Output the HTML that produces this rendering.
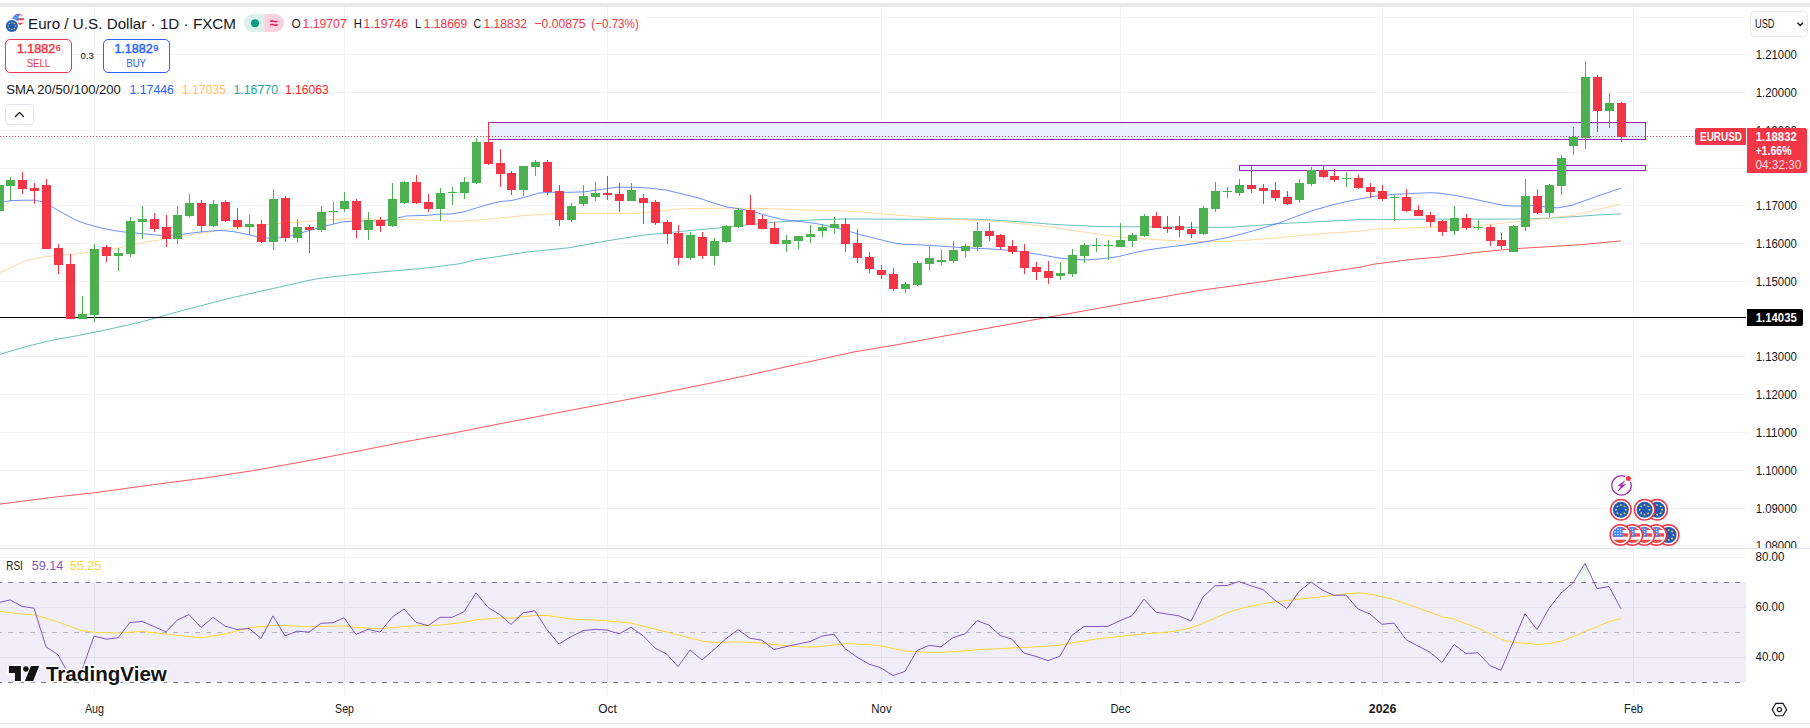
<!DOCTYPE html>
<html lang="en"><head><meta charset="utf-8"><title>EURUSD chart</title>
<style>html,body{margin:0;padding:0;background:#fff;overflow:hidden}svg{display:block}text{white-space:pre}</style>
</head><body>
<svg width="1810" height="728" viewBox="0 0 1810 728" font-family='"Liberation Sans", "DejaVu Sans", sans-serif'>
<rect width="1810" height="728" fill="#fff"/>
<rect x="0" y="3" width="1810" height="4" fill="#eaeaea"/>
<g fill="#f1f3f4" shape-rendering="crispEdges">
<rect x="646" y="17" width="1100" height="1"/>
<rect x="0" y="54" width="1746" height="1"/>
<rect x="0" y="92" width="1746" height="1"/>
<rect x="0" y="130" width="1746" height="1"/>
<rect x="0" y="168" width="1746" height="1"/>
<rect x="0" y="205" width="1746" height="1"/>
<rect x="0" y="243" width="1746" height="1"/>
<rect x="0" y="281" width="1746" height="1"/>
<rect x="0" y="319" width="1746" height="1"/>
<rect x="0" y="356" width="1746" height="1"/>
<rect x="0" y="394" width="1746" height="1"/>
<rect x="0" y="432" width="1746" height="1"/>
<rect x="0" y="470" width="1746" height="1"/>
<rect x="0" y="508" width="1746" height="1"/>
<rect x="0" y="545" width="1746" height="1"/>
<rect x="94" y="7" width="1" height="541"/>
<rect x="94" y="549" width="1" height="146"/>
<rect x="344" y="7" width="1" height="541"/>
<rect x="344" y="549" width="1" height="146"/>
<rect x="607" y="7" width="1" height="541"/>
<rect x="607" y="549" width="1" height="146"/>
<rect x="881" y="7" width="1" height="541"/>
<rect x="881" y="549" width="1" height="146"/>
<rect x="1120" y="7" width="1" height="541"/>
<rect x="1120" y="549" width="1" height="146"/>
<rect x="1382" y="7" width="1" height="541"/>
<rect x="1382" y="549" width="1" height="146"/>
<rect x="1633" y="7" width="1" height="541"/>
<rect x="1633" y="549" width="1" height="146"/>
<rect x="0" y="557" width="1746" height="1"/>
<rect x="0" y="607" width="1746" height="1"/>
<rect x="0" y="657" width="1746" height="1"/>
</g>
<g shape-rendering="crispEdges">
<rect x="488.5" y="122.5" width="1157" height="17" fill="#e8effd" stroke="#9c27b0" stroke-width="1"/>
<rect x="1239.5" y="165.5" width="406" height="5" fill="#e8effd" stroke="#9c27b0" stroke-width="1"/>
</g>
<polyline points="0.0,504.1 50.3,497.6 95.5,492.6 150.8,485.0 201.1,478.5 251.4,470.9 301.7,461.9 352.0,452.3 402.2,442.3 452.5,433.2 502.8,423.2 553.0,413.6 603.3,404.1 653.6,394.5 703.9,384.5 754.2,373.9 804.4,362.8 854.7,351.8 900.0,344.2 950.8,334.8 1001.7,325.7 1044.9,317.8 1077.9,312.0 1103.3,307.4 1128.7,302.8 1154.1,298.5 1179.5,293.9 1205.0,289.6 1230.4,286.3 1255.8,282.7 1281.2,278.9 1306.6,275.1 1332.0,271.3 1360.0,267.2 1374.3,264.1 1410.0,259.6 1440.0,257.0 1475.7,252.5 1511.4,248.9 1547.1,246.8 1582.9,244.5 1621.0,240.9" fill="none" stroke="#ff3b3b" stroke-width="1" stroke-linejoin="round" stroke-opacity="0.85"/>
<polyline points="0.0,354.3 25.1,346.8 50.3,340.5 76.2,335.9 101.7,330.8 127.0,325.2 142.3,321.6 160.1,316.8 177.9,311.7 203.3,305.1 228.7,298.5 254.1,292.7 279.5,287.1 305.0,281.2 317.7,278.7 343.0,275.6 368.5,273.1 393.9,270.8 419.3,268.8 444.7,265.7 460.0,263.7 475.4,259.9 500.8,256.1 526.2,252.2 551.7,249.5 569.4,247.7 589.8,243.9 615.2,239.5 640.6,235.5 666.0,232.9 691.4,230.4 716.8,228.1 742.3,225.3 767.7,222.8 793.1,221.0 818.5,219.7 843.9,219.0 869.3,219.0 900.0,219.2 925.4,219.2 950.8,219.0 976.2,219.2 1001.7,220.5 1027.0,222.3 1052.5,224.3 1077.9,225.6 1103.3,226.6 1128.7,226.8 1154.1,226.8 1179.5,227.3 1205.0,227.3 1230.4,227.3 1255.8,225.6 1281.2,223.5 1306.6,222.3 1332.0,221.0 1360.0,219.7 1392.1,219.5 1427.9,219.1 1475.7,219.1 1511.4,219.1 1532.9,218.8 1550.7,218.0 1572.1,216.8 1597.1,215.0 1621.0,213.9" fill="none" stroke="#26a69a" stroke-width="1" stroke-linejoin="round" stroke-opacity="0.7"/>
<polyline points="0.0,272.6 12.7,266.7 25.4,261.1 38.1,257.8 50.8,256.1 71.2,254.5 86.4,252.8 101.7,250.7 119.4,247.7 142.3,242.6 162.6,239.3 183.0,236.2 203.3,232.9 223.6,229.9 244.0,226.6 264.3,224.8 284.6,223.0 305.0,221.5 325.3,220.2 345.6,219.0 366.0,219.0 386.3,219.7 406.6,219.2 427.0,220.2 447.3,221.0 460.0,221.4 475.4,220.2 500.8,217.9 526.2,215.4 551.7,213.9 577.0,213.4 602.5,213.4 628.0,213.9 643.0,212.9 661.0,210.8 678.7,209.0 704.1,208.3 729.5,208.3 755.0,208.3 780.4,209.0 805.8,210.1 831.2,210.3 856.6,211.6 882.0,213.9 900.0,215.4 925.4,217.2 950.8,219.0 976.2,220.5 1001.7,221.8 1027.0,224.3 1052.5,227.3 1077.9,231.2 1103.3,235.0 1128.7,238.0 1154.1,239.5 1179.5,240.8 1205.0,241.8 1230.4,241.3 1255.8,239.5 1281.2,237.5 1306.6,235.0 1332.0,232.9 1360.0,231.2 1374.3,229.3 1410.0,227.9 1436.8,227.0 1457.9,227.9 1482.9,225.2 1500.7,223.4 1518.6,221.6 1532.9,219.8 1550.7,218.0 1572.1,215.5 1586.4,212.3 1600.7,208.8 1621.0,203.9" fill="none" stroke="#ffcc80" stroke-width="1" stroke-linejoin="round" stroke-opacity="0.75"/>
<polyline points="0.0,202.7 10.0,200.7 23.0,200.2 34.0,200.2 41.0,201.4 51.0,206.3 63.5,213.4 76.0,220.2 86.4,224.0 101.7,228.1 114.4,230.6 127.0,232.4 142.3,233.7 157.6,235.2 167.7,235.5 178.0,234.7 193.0,232.9 208.4,231.2 221.0,230.4 233.8,231.7 244.0,233.7 256.7,236.7 266.8,238.0 279.5,237.8 292.2,235.7 305.0,231.7 317.7,228.1 330.4,224.8 343.0,221.8 355.8,221.0 368.5,221.0 381.2,221.0 393.9,219.0 406.6,215.9 427.0,215.4 442.2,213.9 450.0,214.1 462.7,212.1 475.4,208.3 488.1,204.5 500.8,201.4 511.0,200.7 526.2,196.8 539.0,193.0 551.7,192.3 569.4,192.3 584.7,191.8 602.5,189.2 617.7,187.2 633.0,187.2 648.2,188.0 666.0,190.0 683.8,194.3 699.0,198.1 714.3,203.2 727.0,207.0 739.7,208.8 755.0,212.1 767.7,215.9 782.9,219.7 800.7,221.5 816.0,223.5 831.2,226.6 846.4,230.6 861.7,235.0 876.9,238.8 892.2,242.6 904.9,244.6 915.2,244.6 938.1,245.9 963.5,247.7 989.0,248.9 1014.4,250.7 1039.8,254.5 1057.6,257.8 1072.8,259.6 1088.0,259.9 1103.3,258.6 1118.5,256.6 1133.8,252.8 1149.0,249.7 1166.8,247.2 1184.6,245.1 1205.0,241.8 1225.3,238.0 1243.0,233.7 1260.9,228.6 1281.2,222.3 1296.4,216.4 1311.7,210.8 1332.0,205.0 1347.3,201.4 1360.0,198.9 1374.3,196.3 1392.1,194.5 1410.0,193.6 1429.6,192.7 1440.0,193.2 1457.9,195.9 1475.7,199.5 1493.6,203.4 1504.3,205.5 1515.0,206.1 1532.9,205.7 1547.1,207.0 1557.9,207.9 1572.1,205.2 1582.9,201.3 1597.1,196.3 1611.4,191.4 1621.0,188.2" fill="none" stroke="#2962ff" stroke-width="1" stroke-linejoin="round" stroke-opacity="0.7"/>
<rect x="0" y="317" width="1746" height="1" fill="#000" shape-rendering="crispEdges"/>
<g shape-rendering="crispEdges">
<rect x="-1" y="185" width="1" height="26" fill="#4caf50"/>
<rect x="-5" y="185" width="9" height="26" fill="#4caf50"/>
<rect x="10" y="177" width="1" height="24" fill="#4caf50"/>
<rect x="6" y="180" width="9" height="6" fill="#4caf50"/>
<rect x="22" y="172" width="1" height="22" fill="#f23645"/>
<rect x="18" y="180" width="9" height="9" fill="#f23645"/>
<rect x="34" y="183" width="1" height="21" fill="#f23645"/>
<rect x="30" y="188" width="9" height="3" fill="#f23645"/>
<rect x="46" y="179" width="1" height="70" fill="#f23645"/>
<rect x="42" y="185" width="9" height="64" fill="#f23645"/>
<rect x="58" y="244" width="1" height="30" fill="#f23645"/>
<rect x="54" y="248" width="9" height="17" fill="#f23645"/>
<rect x="70" y="254" width="1" height="65" fill="#f23645"/>
<rect x="66" y="264" width="9" height="55" fill="#f23645"/>
<rect x="82" y="296" width="1" height="23" fill="#4caf50"/>
<rect x="78" y="314" width="9" height="5" fill="#4caf50"/>
<rect x="94" y="244" width="1" height="78" fill="#4caf50"/>
<rect x="90" y="249" width="9" height="66" fill="#4caf50"/>
<rect x="106" y="245" width="1" height="17" fill="#f23645"/>
<rect x="102" y="247" width="9" height="9" fill="#f23645"/>
<rect x="118" y="248" width="1" height="23" fill="#4caf50"/>
<rect x="114" y="253" width="9" height="3" fill="#4caf50"/>
<rect x="130" y="217" width="1" height="40" fill="#4caf50"/>
<rect x="126" y="221" width="9" height="33" fill="#4caf50"/>
<rect x="142" y="206" width="1" height="33" fill="#4caf50"/>
<rect x="138" y="219" width="9" height="3" fill="#4caf50"/>
<rect x="154" y="213" width="1" height="19" fill="#f23645"/>
<rect x="150" y="219" width="9" height="10" fill="#f23645"/>
<rect x="166" y="215" width="1" height="32" fill="#f23645"/>
<rect x="162" y="227" width="9" height="12" fill="#f23645"/>
<rect x="177" y="206" width="1" height="38" fill="#4caf50"/>
<rect x="173" y="215" width="9" height="24" fill="#4caf50"/>
<rect x="189" y="194" width="1" height="23" fill="#4caf50"/>
<rect x="185" y="203" width="9" height="13" fill="#4caf50"/>
<rect x="201" y="200" width="1" height="32" fill="#f23645"/>
<rect x="197" y="203" width="9" height="23" fill="#f23645"/>
<rect x="213" y="200" width="1" height="27" fill="#4caf50"/>
<rect x="209" y="204" width="9" height="22" fill="#4caf50"/>
<rect x="225" y="200" width="1" height="22" fill="#f23645"/>
<rect x="221" y="202" width="9" height="19" fill="#f23645"/>
<rect x="237" y="208" width="1" height="21" fill="#f23645"/>
<rect x="233" y="220" width="9" height="7" fill="#f23645"/>
<rect x="249" y="215" width="1" height="20" fill="#4caf50"/>
<rect x="245" y="224" width="9" height="3" fill="#4caf50"/>
<rect x="261" y="220" width="1" height="23" fill="#f23645"/>
<rect x="257" y="224" width="9" height="18" fill="#f23645"/>
<rect x="273" y="189" width="1" height="61" fill="#4caf50"/>
<rect x="269" y="199" width="9" height="43" fill="#4caf50"/>
<rect x="285" y="196" width="1" height="46" fill="#f23645"/>
<rect x="281" y="198" width="9" height="40" fill="#f23645"/>
<rect x="297" y="219" width="1" height="24" fill="#4caf50"/>
<rect x="293" y="227" width="9" height="11" fill="#4caf50"/>
<rect x="309" y="225" width="1" height="28" fill="#f23645"/>
<rect x="305" y="227" width="9" height="3" fill="#f23645"/>
<rect x="321" y="206" width="1" height="26" fill="#4caf50"/>
<rect x="317" y="212" width="9" height="18" fill="#4caf50"/>
<rect x="333" y="202" width="1" height="22" fill="#4caf50"/>
<rect x="329" y="211" width="9" height="1" fill="#4caf50"/>
<rect x="344" y="192" width="1" height="20" fill="#4caf50"/>
<rect x="340" y="201" width="9" height="8" fill="#4caf50"/>
<rect x="356" y="199" width="1" height="39" fill="#f23645"/>
<rect x="352" y="201" width="9" height="29" fill="#f23645"/>
<rect x="368" y="212" width="1" height="28" fill="#4caf50"/>
<rect x="364" y="220" width="9" height="10" fill="#4caf50"/>
<rect x="380" y="217" width="1" height="15" fill="#f23645"/>
<rect x="376" y="220" width="9" height="6" fill="#f23645"/>
<rect x="392" y="183" width="1" height="44" fill="#4caf50"/>
<rect x="388" y="199" width="9" height="27" fill="#4caf50"/>
<rect x="404" y="181" width="1" height="23" fill="#4caf50"/>
<rect x="400" y="182" width="9" height="21" fill="#4caf50"/>
<rect x="416" y="175" width="1" height="29" fill="#f23645"/>
<rect x="412" y="182" width="9" height="21" fill="#f23645"/>
<rect x="428" y="194" width="1" height="18" fill="#f23645"/>
<rect x="424" y="202" width="9" height="7" fill="#f23645"/>
<rect x="440" y="188" width="1" height="33" fill="#4caf50"/>
<rect x="436" y="193" width="9" height="16" fill="#4caf50"/>
<rect x="452" y="187" width="1" height="18" fill="#4caf50"/>
<rect x="448" y="192" width="9" height="1" fill="#4caf50"/>
<rect x="464" y="177" width="1" height="22" fill="#4caf50"/>
<rect x="460" y="182" width="9" height="11" fill="#4caf50"/>
<rect x="476" y="138" width="1" height="46" fill="#4caf50"/>
<rect x="472" y="142" width="9" height="41" fill="#4caf50"/>
<rect x="488" y="122" width="1" height="43" fill="#f23645"/>
<rect x="484" y="142" width="9" height="22" fill="#f23645"/>
<rect x="500" y="149" width="1" height="38" fill="#f23645"/>
<rect x="496" y="163" width="9" height="11" fill="#f23645"/>
<rect x="511" y="171" width="1" height="24" fill="#f23645"/>
<rect x="507" y="173" width="9" height="17" fill="#f23645"/>
<rect x="523" y="166" width="1" height="30" fill="#4caf50"/>
<rect x="519" y="166" width="9" height="24" fill="#4caf50"/>
<rect x="535" y="160" width="1" height="16" fill="#4caf50"/>
<rect x="531" y="162" width="9" height="5" fill="#4caf50"/>
<rect x="547" y="160" width="1" height="35" fill="#f23645"/>
<rect x="543" y="162" width="9" height="30" fill="#f23645"/>
<rect x="559" y="185" width="1" height="41" fill="#f23645"/>
<rect x="555" y="191" width="9" height="29" fill="#f23645"/>
<rect x="571" y="203" width="1" height="19" fill="#4caf50"/>
<rect x="567" y="206" width="9" height="14" fill="#4caf50"/>
<rect x="583" y="185" width="1" height="21" fill="#4caf50"/>
<rect x="579" y="196" width="9" height="8" fill="#4caf50"/>
<rect x="595" y="182" width="1" height="19" fill="#4caf50"/>
<rect x="591" y="193" width="9" height="4" fill="#4caf50"/>
<rect x="607" y="176" width="1" height="24" fill="#f23645"/>
<rect x="603" y="193" width="9" height="2" fill="#f23645"/>
<rect x="619" y="183" width="1" height="29" fill="#f23645"/>
<rect x="615" y="194" width="9" height="7" fill="#f23645"/>
<rect x="631" y="183" width="1" height="18" fill="#4caf50"/>
<rect x="627" y="190" width="9" height="11" fill="#4caf50"/>
<rect x="643" y="194" width="1" height="30" fill="#f23645"/>
<rect x="639" y="198" width="9" height="5" fill="#f23645"/>
<rect x="655" y="200" width="1" height="25" fill="#f23645"/>
<rect x="651" y="202" width="9" height="21" fill="#f23645"/>
<rect x="667" y="220" width="1" height="24" fill="#f23645"/>
<rect x="663" y="222" width="9" height="12" fill="#f23645"/>
<rect x="678" y="225" width="1" height="40" fill="#f23645"/>
<rect x="674" y="233" width="9" height="25" fill="#f23645"/>
<rect x="690" y="232" width="1" height="28" fill="#4caf50"/>
<rect x="686" y="235" width="9" height="23" fill="#4caf50"/>
<rect x="702" y="232" width="1" height="27" fill="#f23645"/>
<rect x="698" y="237" width="9" height="19" fill="#f23645"/>
<rect x="714" y="238" width="1" height="27" fill="#4caf50"/>
<rect x="710" y="241" width="9" height="15" fill="#4caf50"/>
<rect x="726" y="225" width="1" height="18" fill="#4caf50"/>
<rect x="722" y="226" width="9" height="16" fill="#4caf50"/>
<rect x="738" y="208" width="1" height="20" fill="#4caf50"/>
<rect x="734" y="210" width="9" height="17" fill="#4caf50"/>
<rect x="750" y="195" width="1" height="30" fill="#f23645"/>
<rect x="746" y="210" width="9" height="15" fill="#f23645"/>
<rect x="762" y="215" width="1" height="14" fill="#f23645"/>
<rect x="758" y="219" width="9" height="10" fill="#f23645"/>
<rect x="774" y="222" width="1" height="22" fill="#f23645"/>
<rect x="770" y="228" width="9" height="16" fill="#f23645"/>
<rect x="786" y="235" width="1" height="17" fill="#4caf50"/>
<rect x="782" y="240" width="9" height="4" fill="#4caf50"/>
<rect x="798" y="236" width="1" height="13" fill="#4caf50"/>
<rect x="794" y="236" width="9" height="5" fill="#4caf50"/>
<rect x="810" y="225" width="1" height="18" fill="#4caf50"/>
<rect x="806" y="234" width="9" height="3" fill="#4caf50"/>
<rect x="822" y="224" width="1" height="13" fill="#4caf50"/>
<rect x="818" y="227" width="9" height="4" fill="#4caf50"/>
<rect x="834" y="217" width="1" height="17" fill="#4caf50"/>
<rect x="830" y="224" width="9" height="4" fill="#4caf50"/>
<rect x="845" y="218" width="1" height="34" fill="#f23645"/>
<rect x="841" y="224" width="9" height="20" fill="#f23645"/>
<rect x="857" y="229" width="1" height="34" fill="#f23645"/>
<rect x="853" y="243" width="9" height="15" fill="#f23645"/>
<rect x="869" y="252" width="1" height="21" fill="#f23645"/>
<rect x="865" y="257" width="9" height="12" fill="#f23645"/>
<rect x="881" y="265" width="1" height="14" fill="#f23645"/>
<rect x="877" y="270" width="9" height="5" fill="#f23645"/>
<rect x="893" y="268" width="1" height="23" fill="#f23645"/>
<rect x="889" y="274" width="9" height="15" fill="#f23645"/>
<rect x="905" y="282" width="1" height="11" fill="#4caf50"/>
<rect x="901" y="284" width="9" height="5" fill="#4caf50"/>
<rect x="917" y="261" width="1" height="25" fill="#4caf50"/>
<rect x="913" y="263" width="9" height="22" fill="#4caf50"/>
<rect x="929" y="247" width="1" height="23" fill="#4caf50"/>
<rect x="925" y="258" width="9" height="6" fill="#4caf50"/>
<rect x="941" y="250" width="1" height="15" fill="#4caf50"/>
<rect x="937" y="260" width="9" height="2" fill="#4caf50"/>
<rect x="953" y="241" width="1" height="22" fill="#4caf50"/>
<rect x="949" y="250" width="9" height="11" fill="#4caf50"/>
<rect x="965" y="244" width="1" height="13" fill="#4caf50"/>
<rect x="961" y="246" width="9" height="5" fill="#4caf50"/>
<rect x="977" y="222" width="1" height="29" fill="#4caf50"/>
<rect x="973" y="231" width="9" height="16" fill="#4caf50"/>
<rect x="989" y="223" width="1" height="18" fill="#f23645"/>
<rect x="985" y="231" width="9" height="5" fill="#f23645"/>
<rect x="1000" y="234" width="1" height="16" fill="#f23645"/>
<rect x="996" y="235" width="9" height="12" fill="#f23645"/>
<rect x="1012" y="240" width="1" height="14" fill="#f23645"/>
<rect x="1008" y="246" width="9" height="6" fill="#f23645"/>
<rect x="1024" y="244" width="1" height="30" fill="#f23645"/>
<rect x="1020" y="251" width="9" height="17" fill="#f23645"/>
<rect x="1036" y="262" width="1" height="18" fill="#f23645"/>
<rect x="1032" y="267" width="9" height="5" fill="#f23645"/>
<rect x="1048" y="261" width="1" height="23" fill="#f23645"/>
<rect x="1044" y="271" width="9" height="7" fill="#f23645"/>
<rect x="1060" y="262" width="1" height="18" fill="#4caf50"/>
<rect x="1056" y="273" width="9" height="3" fill="#4caf50"/>
<rect x="1072" y="249" width="1" height="28" fill="#4caf50"/>
<rect x="1068" y="255" width="9" height="19" fill="#4caf50"/>
<rect x="1084" y="243" width="1" height="20" fill="#4caf50"/>
<rect x="1080" y="245" width="9" height="11" fill="#4caf50"/>
<rect x="1096" y="238" width="1" height="14" fill="#4caf50"/>
<rect x="1092" y="245" width="9" height="1" fill="#4caf50"/>
<rect x="1108" y="240" width="1" height="20" fill="#4caf50"/>
<rect x="1104" y="245" width="9" height="1" fill="#4caf50"/>
<rect x="1120" y="223" width="1" height="24" fill="#4caf50"/>
<rect x="1116" y="240" width="9" height="7" fill="#4caf50"/>
<rect x="1132" y="233" width="1" height="14" fill="#4caf50"/>
<rect x="1128" y="235" width="9" height="6" fill="#4caf50"/>
<rect x="1144" y="214" width="1" height="23" fill="#4caf50"/>
<rect x="1140" y="216" width="9" height="20" fill="#4caf50"/>
<rect x="1156" y="212" width="1" height="16" fill="#f23645"/>
<rect x="1152" y="216" width="9" height="12" fill="#f23645"/>
<rect x="1167" y="216" width="1" height="17" fill="#f23645"/>
<rect x="1163" y="227" width="9" height="2" fill="#f23645"/>
<rect x="1179" y="216" width="1" height="21" fill="#f23645"/>
<rect x="1175" y="226" width="9" height="4" fill="#f23645"/>
<rect x="1191" y="222" width="1" height="16" fill="#f23645"/>
<rect x="1187" y="229" width="9" height="5" fill="#f23645"/>
<rect x="1203" y="206" width="1" height="29" fill="#4caf50"/>
<rect x="1199" y="208" width="9" height="26" fill="#4caf50"/>
<rect x="1215" y="182" width="1" height="30" fill="#4caf50"/>
<rect x="1211" y="191" width="9" height="18" fill="#4caf50"/>
<rect x="1227" y="187" width="1" height="11" fill="#4caf50"/>
<rect x="1223" y="191" width="9" height="1" fill="#4caf50"/>
<rect x="1239" y="179" width="1" height="17" fill="#4caf50"/>
<rect x="1235" y="185" width="9" height="8" fill="#4caf50"/>
<rect x="1251" y="166" width="1" height="27" fill="#f23645"/>
<rect x="1247" y="185" width="9" height="4" fill="#f23645"/>
<rect x="1263" y="184" width="1" height="20" fill="#f23645"/>
<rect x="1259" y="188" width="9" height="3" fill="#f23645"/>
<rect x="1275" y="182" width="1" height="19" fill="#f23645"/>
<rect x="1271" y="190" width="9" height="8" fill="#f23645"/>
<rect x="1287" y="191" width="1" height="14" fill="#f23645"/>
<rect x="1283" y="197" width="9" height="7" fill="#f23645"/>
<rect x="1299" y="179" width="1" height="24" fill="#4caf50"/>
<rect x="1295" y="183" width="9" height="17" fill="#4caf50"/>
<rect x="1311" y="167" width="1" height="19" fill="#4caf50"/>
<rect x="1307" y="170" width="9" height="14" fill="#4caf50"/>
<rect x="1323" y="165" width="1" height="13" fill="#f23645"/>
<rect x="1319" y="170" width="9" height="7" fill="#f23645"/>
<rect x="1334" y="169" width="1" height="13" fill="#f23645"/>
<rect x="1330" y="176" width="9" height="4" fill="#f23645"/>
<rect x="1346" y="172" width="1" height="15" fill="#4caf50"/>
<rect x="1342" y="178" width="9" height="1" fill="#4caf50"/>
<rect x="1358" y="175" width="1" height="14" fill="#f23645"/>
<rect x="1354" y="178" width="9" height="10" fill="#f23645"/>
<rect x="1370" y="183" width="1" height="15" fill="#f23645"/>
<rect x="1366" y="187" width="9" height="5" fill="#f23645"/>
<rect x="1382" y="185" width="1" height="16" fill="#f23645"/>
<rect x="1378" y="191" width="9" height="8" fill="#f23645"/>
<rect x="1394" y="195" width="1" height="26" fill="#4caf50"/>
<rect x="1390" y="197" width="9" height="1" fill="#4caf50"/>
<rect x="1406" y="189" width="1" height="23" fill="#f23645"/>
<rect x="1402" y="197" width="9" height="14" fill="#f23645"/>
<rect x="1418" y="205" width="1" height="11" fill="#f23645"/>
<rect x="1414" y="210" width="9" height="6" fill="#f23645"/>
<rect x="1430" y="212" width="1" height="15" fill="#f23645"/>
<rect x="1426" y="215" width="9" height="7" fill="#f23645"/>
<rect x="1442" y="220" width="1" height="16" fill="#f23645"/>
<rect x="1438" y="221" width="9" height="11" fill="#f23645"/>
<rect x="1454" y="206" width="1" height="29" fill="#4caf50"/>
<rect x="1450" y="218" width="9" height="13" fill="#4caf50"/>
<rect x="1466" y="214" width="1" height="16" fill="#f23645"/>
<rect x="1462" y="218" width="9" height="10" fill="#f23645"/>
<rect x="1478" y="220" width="1" height="10" fill="#4caf50"/>
<rect x="1474" y="227" width="9" height="1" fill="#4caf50"/>
<rect x="1490" y="225" width="1" height="21" fill="#f23645"/>
<rect x="1486" y="227" width="9" height="14" fill="#f23645"/>
<rect x="1501" y="233" width="1" height="16" fill="#f23645"/>
<rect x="1497" y="240" width="9" height="6" fill="#f23645"/>
<rect x="1513" y="225" width="1" height="27" fill="#4caf50"/>
<rect x="1509" y="226" width="9" height="26" fill="#4caf50"/>
<rect x="1525" y="179" width="1" height="52" fill="#4caf50"/>
<rect x="1521" y="196" width="9" height="31" fill="#4caf50"/>
<rect x="1537" y="189" width="1" height="25" fill="#f23645"/>
<rect x="1533" y="196" width="9" height="17" fill="#f23645"/>
<rect x="1549" y="184" width="1" height="33" fill="#4caf50"/>
<rect x="1545" y="185" width="9" height="28" fill="#4caf50"/>
<rect x="1561" y="155" width="1" height="40" fill="#4caf50"/>
<rect x="1557" y="158" width="9" height="28" fill="#4caf50"/>
<rect x="1573" y="127" width="1" height="28" fill="#4caf50"/>
<rect x="1569" y="137" width="9" height="9" fill="#4caf50"/>
<rect x="1585" y="61" width="1" height="88" fill="#4caf50"/>
<rect x="1581" y="77" width="9" height="61" fill="#4caf50"/>
<rect x="1597" y="75" width="1" height="57" fill="#f23645"/>
<rect x="1593" y="77" width="9" height="34" fill="#f23645"/>
<rect x="1609" y="93" width="1" height="35" fill="#4caf50"/>
<rect x="1605" y="103" width="9" height="8" fill="#4caf50"/>
<rect x="1621" y="102" width="1" height="40" fill="#f23645"/>
<rect x="1617" y="103" width="9" height="34" fill="#f23645"/>
</g>
<line x1="0" y1="136.5" x2="1694" y2="136.5" stroke="#f23645" stroke-width="1" stroke-dasharray="1 2" shape-rendering="crispEdges"/>
<rect x="0" y="548" width="1810" height="1" fill="#e0e3eb"/>
<rect x="0" y="582" width="1746" height="100" fill="#7e57c2" fill-opacity="0.1"/>
<line x1="0" y1="582.5" x2="1746" y2="582.5" stroke="#787b86" stroke-width="1" stroke-dasharray="5 6" stroke-dashoffset="2.9"/>
<line x1="0" y1="682.5" x2="1746" y2="682.5" stroke="#787b86" stroke-width="1" stroke-dasharray="5 6" stroke-dashoffset="2.9"/>
<line x1="0" y1="632.5" x2="1746" y2="632.5" stroke="#787b86" stroke-opacity="0.5" stroke-width="1" stroke-dasharray="5 6" stroke-dashoffset="2.9"/>
<defs><linearGradient id="ob" gradientUnits="userSpaceOnUse" x1="0" y1="507.4" x2="0" y2="582.3"><stop offset="0" stop-color="#4caf50" stop-opacity="1"/><stop offset="1" stop-color="#4caf50" stop-opacity="0"/></linearGradient><clipPath id="obc"><rect x="0" y="549" width="1746" height="33.5"/></clipPath></defs>
<polygon points="-13.0,582.5 -13.0,603.0 -1.0,602.5 10.0,599.9 22.0,606.3 34.0,608.2 46.0,646.8 58.0,654.6 70.0,677.0 82.0,670.0 94.0,636.1 106.0,639.1 118.0,637.8 130.0,622.5 142.0,621.4 154.0,626.5 166.0,631.9 177.0,620.2 189.0,614.6 201.0,627.4 213.0,617.4 225.0,626.1 237.0,629.5 249.0,628.5 261.0,638.3 273.0,615.9 285.0,635.9 297.0,631.2 309.0,632.1 321.0,623.3 333.0,622.7 344.0,617.7 356.0,634.4 368.0,629.3 380.0,632.1 392.0,617.3 404.0,609.0 416.0,622.3 428.0,625.7 440.0,617.3 452.0,617.3 464.0,611.8 476.0,592.9 488.0,607.4 500.0,614.7 511.0,624.5 523.0,612.8 535.0,610.8 547.0,629.7 559.0,644.0 571.0,636.6 583.0,630.7 595.0,629.3 607.0,630.1 619.0,633.8 631.0,627.3 643.0,635.6 655.0,648.0 667.0,654.3 678.0,666.7 690.0,650.0 702.0,659.9 714.0,649.6 726.0,638.6 738.0,629.7 750.0,638.2 762.0,640.2 774.0,649.6 786.0,646.6 798.0,644.0 810.0,641.6 822.0,636.0 834.0,634.2 845.0,648.6 857.0,657.1 869.0,664.1 881.0,667.9 893.0,675.6 905.0,671.4 917.0,650.5 929.0,645.4 941.0,646.8 953.0,637.6 965.0,633.8 977.0,620.7 989.0,625.1 1000.0,635.4 1012.0,639.2 1024.0,653.1 1036.0,656.4 1048.0,660.7 1060.0,656.1 1072.0,635.2 1084.0,626.5 1096.0,626.5 1108.0,626.3 1120.0,620.7 1132.0,615.7 1144.0,599.2 1156.0,612.2 1167.0,614.0 1179.0,615.9 1191.0,621.1 1203.0,597.0 1215.0,585.7 1227.0,585.5 1239.0,581.5 1251.0,585.9 1263.0,589.5 1275.0,600.2 1287.0,608.6 1299.0,591.5 1311.0,581.9 1323.0,590.5 1334.0,595.3 1346.0,595.1 1358.0,609.0 1370.0,614.0 1382.0,624.3 1394.0,623.1 1406.0,639.6 1418.0,646.0 1430.0,652.2 1442.0,662.5 1454.0,644.5 1466.0,653.5 1478.0,652.7 1490.0,665.7 1501.0,670.3 1513.0,642.4 1525.0,613.8 1537.0,629.6 1549.0,608.4 1561.0,593.0 1573.0,582.8 1585.0,563.4 1597.0,588.6 1609.0,586.5 1621.0,608.8 1621.0,582.5" fill="url(#ob)" clip-path="url(#obc)"/>
<polyline points="0.0,611.4 22.8,614.2 34.7,614.8 58.5,622.1 82.4,630.8 94.3,632.3 118.2,633.1 142.0,631.4 165.9,634.0 177.8,635.5 201.7,637.8 225.5,634.0 249.4,627.6 273.2,625.5 285.2,625.5 309.0,626.8 332.9,626.1 344.7,625.9 356.7,627.5 380.5,628.7 404.4,626.5 428.3,625.3 440.2,625.1 464.0,622.3 476.0,619.7 499.9,617.9 511.8,618.3 523.7,616.5 535.7,615.5 547.6,615.5 571.5,619.1 595.3,620.1 607.3,620.9 631.1,623.1 655.0,629.1 678.9,635.2 702.7,641.2 714.6,642.6 738.5,641.8 762.4,643.2 774.3,644.6 798.2,646.6 810.1,647.2 822.0,646.4 845.9,643.6 869.8,644.6 881.7,646.0 905.5,651.1 917.5,651.9 929.4,652.3 941.3,652.3 965.2,650.9 977.1,649.6 1001.0,648.6 1024.9,647.4 1048.7,646.2 1060.6,645.0 1072.6,642.8 1096.4,639.0 1120.3,636.4 1144.2,633.8 1168.0,632.1 1180.0,630.3 1191.9,627.7 1203.8,622.9 1215.8,617.7 1227.7,612.6 1239.6,608.8 1251.6,606.0 1263.5,603.6 1275.4,601.6 1287.4,600.6 1299.3,599.2 1311.2,598.0 1323.2,596.5 1335.1,595.1 1347.0,593.7 1359.0,592.9 1370.9,594.3 1382.8,597.0 1394.7,599.8 1418.5,608.2 1442.4,616.8 1454.3,619.3 1478.0,628.1 1502.0,639.6 1514.0,642.6 1525.9,643.2 1537.9,644.5 1549.6,643.4 1561.6,641.1 1573.6,636.5 1585.5,631.2 1597.5,626.6 1609.5,621.4 1621.3,618.7" fill="none" stroke="#fdd835" stroke-width="1" stroke-linejoin="round" />
<polyline points="-13.0,603.0 -1.0,602.5 10.0,599.9 22.0,606.3 34.0,608.2 46.0,646.8 58.0,654.6 70.0,677.0 82.0,670.0 94.0,636.1 106.0,639.1 118.0,637.8 130.0,622.5 142.0,621.4 154.0,626.5 166.0,631.9 177.0,620.2 189.0,614.6 201.0,627.4 213.0,617.4 225.0,626.1 237.0,629.5 249.0,628.5 261.0,638.3 273.0,615.9 285.0,635.9 297.0,631.2 309.0,632.1 321.0,623.3 333.0,622.7 344.0,617.7 356.0,634.4 368.0,629.3 380.0,632.1 392.0,617.3 404.0,609.0 416.0,622.3 428.0,625.7 440.0,617.3 452.0,617.3 464.0,611.8 476.0,592.9 488.0,607.4 500.0,614.7 511.0,624.5 523.0,612.8 535.0,610.8 547.0,629.7 559.0,644.0 571.0,636.6 583.0,630.7 595.0,629.3 607.0,630.1 619.0,633.8 631.0,627.3 643.0,635.6 655.0,648.0 667.0,654.3 678.0,666.7 690.0,650.0 702.0,659.9 714.0,649.6 726.0,638.6 738.0,629.7 750.0,638.2 762.0,640.2 774.0,649.6 786.0,646.6 798.0,644.0 810.0,641.6 822.0,636.0 834.0,634.2 845.0,648.6 857.0,657.1 869.0,664.1 881.0,667.9 893.0,675.6 905.0,671.4 917.0,650.5 929.0,645.4 941.0,646.8 953.0,637.6 965.0,633.8 977.0,620.7 989.0,625.1 1000.0,635.4 1012.0,639.2 1024.0,653.1 1036.0,656.4 1048.0,660.7 1060.0,656.1 1072.0,635.2 1084.0,626.5 1096.0,626.5 1108.0,626.3 1120.0,620.7 1132.0,615.7 1144.0,599.2 1156.0,612.2 1167.0,614.0 1179.0,615.9 1191.0,621.1 1203.0,597.0 1215.0,585.7 1227.0,585.5 1239.0,581.5 1251.0,585.9 1263.0,589.5 1275.0,600.2 1287.0,608.6 1299.0,591.5 1311.0,581.9 1323.0,590.5 1334.0,595.3 1346.0,595.1 1358.0,609.0 1370.0,614.0 1382.0,624.3 1394.0,623.1 1406.0,639.6 1418.0,646.0 1430.0,652.2 1442.0,662.5 1454.0,644.5 1466.0,653.5 1478.0,652.7 1490.0,665.7 1501.0,670.3 1513.0,642.4 1525.0,613.8 1537.0,629.6 1549.0,608.4 1561.0,593.0 1573.0,582.8 1585.0,563.4 1597.0,588.6 1609.0,586.5 1621.0,608.8" fill="none" stroke="#7e57c2" stroke-width="1" stroke-linejoin="round" />
<circle cx="1621.5" cy="485.4" r="9.8" fill="#fff" stroke="#9c27b0" stroke-width="1.3"/>
<path stroke="#9c27b0" stroke-width="0.5" stroke-linejoin="round" d="M1624.78,480.77 L1617.75,486.04 L1621.48,485.60 L1618.19,490.88 L1625.55,484.51 L1621.70,485.05 Z" fill="#9c27b0"/>
<circle cx="1628.4" cy="478.6" r="3.7" fill="#fff"/><circle cx="1628.4" cy="478.6" r="2.5" fill="#f23645"/>
<circle cx="1657.2" cy="509.8" r="10.2" fill="#fff" stroke="#f23645" stroke-width="1.5"/><circle cx="1657.2" cy="509.8" r="8" fill="#1e5bb8"/><circle cx="1657.20" cy="504.90" r="0.95" fill="#f2d24b"/><circle cx="1660.66" cy="506.34" r="0.95" fill="#f2d24b"/><circle cx="1662.10" cy="509.80" r="0.95" fill="#f2d24b"/><circle cx="1660.66" cy="513.26" r="0.95" fill="#f2d24b"/><circle cx="1657.20" cy="514.70" r="0.95" fill="#f2d24b"/><circle cx="1653.74" cy="513.26" r="0.95" fill="#f2d24b"/><circle cx="1652.30" cy="509.80" r="0.95" fill="#f2d24b"/><circle cx="1653.74" cy="506.34" r="0.95" fill="#f2d24b"/>
<circle cx="1644.6" cy="509.8" r="10.2" fill="#fff" stroke="#f23645" stroke-width="1.5"/><circle cx="1644.6" cy="509.8" r="8" fill="#1e5bb8"/><circle cx="1644.60" cy="504.90" r="0.95" fill="#f2d24b"/><circle cx="1648.06" cy="506.34" r="0.95" fill="#f2d24b"/><circle cx="1649.50" cy="509.80" r="0.95" fill="#f2d24b"/><circle cx="1648.06" cy="513.26" r="0.95" fill="#f2d24b"/><circle cx="1644.60" cy="514.70" r="0.95" fill="#f2d24b"/><circle cx="1641.14" cy="513.26" r="0.95" fill="#f2d24b"/><circle cx="1639.70" cy="509.80" r="0.95" fill="#f2d24b"/><circle cx="1641.14" cy="506.34" r="0.95" fill="#f2d24b"/>
<circle cx="1620.9" cy="509.8" r="10.2" fill="#fff" stroke="#f23645" stroke-width="1.5"/><circle cx="1620.9" cy="509.8" r="8" fill="#1e5bb8"/><circle cx="1620.90" cy="504.90" r="0.95" fill="#f2d24b"/><circle cx="1624.36" cy="506.34" r="0.95" fill="#f2d24b"/><circle cx="1625.80" cy="509.80" r="0.95" fill="#f2d24b"/><circle cx="1624.36" cy="513.26" r="0.95" fill="#f2d24b"/><circle cx="1620.90" cy="514.70" r="0.95" fill="#f2d24b"/><circle cx="1617.44" cy="513.26" r="0.95" fill="#f2d24b"/><circle cx="1616.00" cy="509.80" r="0.95" fill="#f2d24b"/><circle cx="1617.44" cy="506.34" r="0.95" fill="#f2d24b"/>
<circle cx="1668.6" cy="535" r="10.2" fill="#fff" stroke="#f23645" stroke-width="1.5"/><circle cx="1668.6" cy="535" r="8" fill="#1e5bb8"/><circle cx="1668.60" cy="530.10" r="0.95" fill="#f2d24b"/><circle cx="1672.06" cy="531.54" r="0.95" fill="#f2d24b"/><circle cx="1673.50" cy="535.00" r="0.95" fill="#f2d24b"/><circle cx="1672.06" cy="538.46" r="0.95" fill="#f2d24b"/><circle cx="1668.60" cy="539.90" r="0.95" fill="#f2d24b"/><circle cx="1665.14" cy="538.46" r="0.95" fill="#f2d24b"/><circle cx="1663.70" cy="535.00" r="0.95" fill="#f2d24b"/><circle cx="1665.14" cy="531.54" r="0.95" fill="#f2d24b"/>
<circle cx="1656.4" cy="535" r="10.2" fill="#fff" stroke="#f23645" stroke-width="1.5"/><clipPath id="us0"><circle cx="1656.4" cy="535" r="8"/></clipPath><g clip-path="url(#us0)"><rect x="1648.4" y="527" width="16" height="16" fill="#fff"/><rect x="1648.4" y="527.0" width="16" height="3.0" fill="#ef4a4a"/><rect x="1648.4" y="533.3" width="16" height="3.4" fill="#ef4a4a"/><rect x="1648.4" y="539.7" width="16" height="3.5" fill="#ef4a4a"/><rect x="1648.4" y="527" width="10.2" height="9.8" fill="#3b82f6"/><rect x="1650.4" y="528.6" width="1.5" height="1.2" fill="#e3eefd"/><rect x="1650.4" y="531.3" width="1.5" height="1.2" fill="#e3eefd"/><rect x="1650.4" y="534.0" width="1.5" height="1.2" fill="#e3eefd"/><rect x="1653.1" y="528.6" width="1.5" height="1.2" fill="#e3eefd"/><rect x="1653.1" y="531.3" width="1.5" height="1.2" fill="#e3eefd"/><rect x="1653.1" y="534.0" width="1.5" height="1.2" fill="#e3eefd"/><rect x="1655.8" y="528.6" width="1.5" height="1.2" fill="#e3eefd"/><rect x="1655.8" y="531.3" width="1.5" height="1.2" fill="#e3eefd"/><rect x="1655.8" y="534.0" width="1.5" height="1.2" fill="#e3eefd"/></g>
<circle cx="1644.4" cy="535" r="10.2" fill="#fff" stroke="#f23645" stroke-width="1.5"/><clipPath id="us1"><circle cx="1644.4" cy="535" r="8"/></clipPath><g clip-path="url(#us1)"><rect x="1636.4" y="527" width="16" height="16" fill="#fff"/><rect x="1636.4" y="527.0" width="16" height="3.0" fill="#ef4a4a"/><rect x="1636.4" y="533.3" width="16" height="3.4" fill="#ef4a4a"/><rect x="1636.4" y="539.7" width="16" height="3.5" fill="#ef4a4a"/><rect x="1636.4" y="527" width="10.2" height="9.8" fill="#3b82f6"/><rect x="1638.4" y="528.6" width="1.5" height="1.2" fill="#e3eefd"/><rect x="1638.4" y="531.3" width="1.5" height="1.2" fill="#e3eefd"/><rect x="1638.4" y="534.0" width="1.5" height="1.2" fill="#e3eefd"/><rect x="1641.1" y="528.6" width="1.5" height="1.2" fill="#e3eefd"/><rect x="1641.1" y="531.3" width="1.5" height="1.2" fill="#e3eefd"/><rect x="1641.1" y="534.0" width="1.5" height="1.2" fill="#e3eefd"/><rect x="1643.8" y="528.6" width="1.5" height="1.2" fill="#e3eefd"/><rect x="1643.8" y="531.3" width="1.5" height="1.2" fill="#e3eefd"/><rect x="1643.8" y="534.0" width="1.5" height="1.2" fill="#e3eefd"/></g>
<circle cx="1632.4" cy="535" r="10.2" fill="#fff" stroke="#f23645" stroke-width="1.5"/><clipPath id="us2"><circle cx="1632.4" cy="535" r="8"/></clipPath><g clip-path="url(#us2)"><rect x="1624.4" y="527" width="16" height="16" fill="#fff"/><rect x="1624.4" y="527.0" width="16" height="3.0" fill="#ef4a4a"/><rect x="1624.4" y="533.3" width="16" height="3.4" fill="#ef4a4a"/><rect x="1624.4" y="539.7" width="16" height="3.5" fill="#ef4a4a"/><rect x="1624.4" y="527" width="10.2" height="9.8" fill="#3b82f6"/><rect x="1626.4" y="528.6" width="1.5" height="1.2" fill="#e3eefd"/><rect x="1626.4" y="531.3" width="1.5" height="1.2" fill="#e3eefd"/><rect x="1626.4" y="534.0" width="1.5" height="1.2" fill="#e3eefd"/><rect x="1629.1" y="528.6" width="1.5" height="1.2" fill="#e3eefd"/><rect x="1629.1" y="531.3" width="1.5" height="1.2" fill="#e3eefd"/><rect x="1629.1" y="534.0" width="1.5" height="1.2" fill="#e3eefd"/><rect x="1631.8" y="528.6" width="1.5" height="1.2" fill="#e3eefd"/><rect x="1631.8" y="531.3" width="1.5" height="1.2" fill="#e3eefd"/><rect x="1631.8" y="534.0" width="1.5" height="1.2" fill="#e3eefd"/></g>
<circle cx="1620.4" cy="535" r="10.2" fill="#fff" stroke="#f23645" stroke-width="1.5"/><clipPath id="us3"><circle cx="1620.4" cy="535" r="8"/></clipPath><g clip-path="url(#us3)"><rect x="1612.4" y="527" width="16" height="16" fill="#fff"/><rect x="1612.4" y="527.0" width="16" height="3.0" fill="#ef4a4a"/><rect x="1612.4" y="533.3" width="16" height="3.4" fill="#ef4a4a"/><rect x="1612.4" y="539.7" width="16" height="3.5" fill="#ef4a4a"/><rect x="1612.4" y="527" width="10.2" height="9.8" fill="#3b82f6"/><rect x="1614.4" y="528.6" width="1.5" height="1.2" fill="#e3eefd"/><rect x="1614.4" y="531.3" width="1.5" height="1.2" fill="#e3eefd"/><rect x="1614.4" y="534.0" width="1.5" height="1.2" fill="#e3eefd"/><rect x="1617.1" y="528.6" width="1.5" height="1.2" fill="#e3eefd"/><rect x="1617.1" y="531.3" width="1.5" height="1.2" fill="#e3eefd"/><rect x="1617.1" y="534.0" width="1.5" height="1.2" fill="#e3eefd"/><rect x="1619.8" y="528.6" width="1.5" height="1.2" fill="#e3eefd"/><rect x="1619.8" y="531.3" width="1.5" height="1.2" fill="#e3eefd"/><rect x="1619.8" y="534.0" width="1.5" height="1.2" fill="#e3eefd"/></g>
<rect x="1746" y="7" width="64" height="716" fill="#fff"/>
<rect x="0" y="548" width="1810" height="1" fill="#e0e3eb"/>
<clipPath id="mainax"><rect x="1746" y="7" width="64" height="541"/></clipPath><g clip-path="url(#mainax)">
<text x="1755.7" y="58.5" font-size="12" fill="#131722" font-weight="normal" text-anchor="start" textLength="41.2" lengthAdjust="spacingAndGlyphs" >1.21000</text>
<text x="1755.7" y="96.5" font-size="12" fill="#131722" font-weight="normal" text-anchor="start" textLength="41.2" lengthAdjust="spacingAndGlyphs" >1.20000</text>
<text x="1755.7" y="134.5" font-size="12" fill="#131722" font-weight="normal" text-anchor="start" textLength="41.2" lengthAdjust="spacingAndGlyphs" >1.19000</text>
<text x="1755.7" y="172.5" font-size="12" fill="#131722" font-weight="normal" text-anchor="start" textLength="41.2" lengthAdjust="spacingAndGlyphs" >1.18000</text>
<text x="1755.7" y="209.5" font-size="12" fill="#131722" font-weight="normal" text-anchor="start" textLength="41.2" lengthAdjust="spacingAndGlyphs" >1.17000</text>
<text x="1755.7" y="247.5" font-size="12" fill="#131722" font-weight="normal" text-anchor="start" textLength="41.2" lengthAdjust="spacingAndGlyphs" >1.16000</text>
<text x="1755.7" y="285.5" font-size="12" fill="#131722" font-weight="normal" text-anchor="start" textLength="41.2" lengthAdjust="spacingAndGlyphs" >1.15000</text>
<text x="1755.7" y="323.5" font-size="12" fill="#131722" font-weight="normal" text-anchor="start" textLength="41.2" lengthAdjust="spacingAndGlyphs" >1.14000</text>
<text x="1755.7" y="360.5" font-size="12" fill="#131722" font-weight="normal" text-anchor="start" textLength="41.2" lengthAdjust="spacingAndGlyphs" >1.13000</text>
<text x="1755.7" y="398.5" font-size="12" fill="#131722" font-weight="normal" text-anchor="start" textLength="41.2" lengthAdjust="spacingAndGlyphs" >1.12000</text>
<text x="1755.7" y="436.5" font-size="12" fill="#131722" font-weight="normal" text-anchor="start" textLength="41.2" lengthAdjust="spacingAndGlyphs" >1.11000</text>
<text x="1755.7" y="474.5" font-size="12" fill="#131722" font-weight="normal" text-anchor="start" textLength="41.2" lengthAdjust="spacingAndGlyphs" >1.10000</text>
<text x="1755.7" y="512.5" font-size="12" fill="#131722" font-weight="normal" text-anchor="start" textLength="41.2" lengthAdjust="spacingAndGlyphs" >1.09000</text>
<text x="1755.7" y="549.5" font-size="12" fill="#131722" font-weight="normal" text-anchor="start" textLength="41.2" lengthAdjust="spacingAndGlyphs" >1.08000</text>
</g>
<text x="1755.5" y="561.2" font-size="12" fill="#131722" font-weight="normal" text-anchor="start" textLength="28.8" lengthAdjust="spacingAndGlyphs" >80.00</text>
<text x="1755.5" y="611.2" font-size="12" fill="#131722" font-weight="normal" text-anchor="start" textLength="28.8" lengthAdjust="spacingAndGlyphs" >60.00</text>
<text x="1755.5" y="661.2" font-size="12" fill="#131722" font-weight="normal" text-anchor="start" textLength="28.8" lengthAdjust="spacingAndGlyphs" >40.00</text>
<rect x="1750.5" y="11.5" width="57" height="25" rx="4" fill="#fff" stroke="#e6e8ec"/>
<text x="1755" y="28" font-size="12" fill="#131722" font-weight="normal" text-anchor="start" textLength="19.5" lengthAdjust="spacingAndGlyphs" >USD</text>
<path d="M1797.8,23 L1800.2,25.4 L1802.6,23" fill="none" stroke="#131722" stroke-width="1.4" stroke-linecap="round" stroke-linejoin="round"/>
<path d="M1697,128 H1746 V145 H1697 a2,2 0 0 1 -2,-2 V130 a2,2 0 0 1 2,-2 Z" fill="#f23645"/>
<text x="1700" y="140.6" font-size="12.2" fill="#fff" font-weight="bold" text-anchor="start" textLength="42" lengthAdjust="spacingAndGlyphs" >EURUSD</text>
<path d="M1747,128 H1805 a2,2 0 0 1 2,2 V171 a2,2 0 0 1 -2,2 H1747 Z" fill="#f23645"/>
<text x="1755.8" y="140.6" font-size="12.2" fill="#fff" font-weight="bold" text-anchor="start" textLength="41" lengthAdjust="spacingAndGlyphs" >1.18832</text>
<text x="1755.4" y="154.6" font-size="12.2" fill="#fff" font-weight="bold" text-anchor="start" textLength="36.2" lengthAdjust="spacingAndGlyphs" >+1.66%</text>
<text x="1755.4" y="168.6" font-size="12.2" fill="#fff" font-weight="normal" text-anchor="start" textLength="46" lengthAdjust="spacingAndGlyphs" fill-opacity="0.85">04:32:30</text>
<path d="M1747,309 H1801 a2,2 0 0 1 2,2 V324 a2,2 0 0 1 -2,2 H1747 Z" fill="#000"/>
<text x="1755.8" y="321.7" font-size="12.2" fill="#fff" font-weight="bold" text-anchor="start" textLength="41" lengthAdjust="spacingAndGlyphs" >1.14035</text>
<g>
<clipPath id="usf"><circle cx="18.3" cy="19.6" r="5.8"/></clipPath>
<g clip-path="url(#usf)"><rect x="12" y="13" width="13" height="13" fill="#fff"/><rect x="12" y="13.6" width="13" height="1.9" fill="#ef4444"/><rect x="12" y="18.2" width="13" height="2.1" fill="#ef4444"/><rect x="12" y="22.6" width="13" height="2.2" fill="#ef4444"/><rect x="12" y="13" width="6.6" height="7.6" fill="#3b82f6"/><rect x="13.6" y="15.2" width="0.9" height="0.9" fill="#dbeafe"/><rect x="15.6" y="15.2" width="0.9" height="0.9" fill="#dbeafe"/><rect x="14.6" y="17.2" width="0.9" height="0.9" fill="#dbeafe"/><rect x="16.6" y="17.4" width="0.9" height="0.9" fill="#dbeafe"/></g>
<circle cx="11.9" cy="26" r="7.2" fill="#fff"/>
<circle cx="11.9" cy="26" r="6" fill="#1e5bb8"/>
<circle cx="11.90" cy="22.40" r="0.75" fill="#f7d64a"/>
<circle cx="14.45" cy="23.45" r="0.75" fill="#f7d64a"/>
<circle cx="15.50" cy="26.00" r="0.75" fill="#f7d64a"/>
<circle cx="14.45" cy="28.55" r="0.75" fill="#f7d64a"/>
<circle cx="11.90" cy="29.60" r="0.75" fill="#f7d64a"/>
<circle cx="9.35" cy="28.55" r="0.75" fill="#f7d64a"/>
<circle cx="8.30" cy="26.00" r="0.75" fill="#f7d64a"/>
<circle cx="9.35" cy="23.45" r="0.75" fill="#f7d64a"/>
</g>
<text x="28.0" y="29" font-size="15.2" fill="#131722" font-weight="normal" text-anchor="start" textLength="208" lengthAdjust="spacingAndGlyphs" >Euro / U.S. Dollar · 1D · FXCM</text>
<clipPath id="pill"><rect x="244" y="14" width="40" height="18" rx="9"/></clipPath>
<g clip-path="url(#pill)"><rect x="244" y="14" width="20.3" height="18" fill="#daf0ec"/><rect x="264.3" y="14" width="20" height="18" fill="#fbd0df"/></g>
<circle cx="255" cy="23.3" r="4" fill="#089981"/>
<text x="273.8" y="28.2" font-size="15" fill="#e91e63" font-weight="bold" text-anchor="middle" >≈</text>
<text x="291.5" y="28.4" font-size="13" fill="#131722" font-weight="normal" text-anchor="start" textLength="9.2" lengthAdjust="spacingAndGlyphs" >O</text>
<text x="302.6" y="28.4" font-size="13" fill="#f23645" font-weight="normal" text-anchor="start" textLength="44.1" lengthAdjust="spacingAndGlyphs" >1.19707</text>
<text x="353.7" y="28.4" font-size="13" fill="#131722" font-weight="normal" text-anchor="start" textLength="8.2" lengthAdjust="spacingAndGlyphs" >H</text>
<text x="363.6" y="28.4" font-size="13" fill="#f23645" font-weight="normal" text-anchor="start" textLength="44.4" lengthAdjust="spacingAndGlyphs" >1.19746</text>
<text x="415.0" y="28.4" font-size="13" fill="#131722" font-weight="normal" text-anchor="start" textLength="6.2" lengthAdjust="spacingAndGlyphs" >L</text>
<text x="423.7" y="28.4" font-size="13" fill="#f23645" font-weight="normal" text-anchor="start" textLength="43.6" lengthAdjust="spacingAndGlyphs" >1.18669</text>
<text x="473.6" y="28.4" font-size="13" fill="#131722" font-weight="normal" text-anchor="start" textLength="7.6" lengthAdjust="spacingAndGlyphs" >C</text>
<text x="483.6" y="28.4" font-size="13" fill="#f23645" font-weight="normal" text-anchor="start" textLength="43.4" lengthAdjust="spacingAndGlyphs" >1.18832</text>
<text x="534.4" y="28.4" font-size="13" fill="#f23645" font-weight="normal" text-anchor="start" textLength="51.1" lengthAdjust="spacingAndGlyphs" >−0.00875</text>
<text x="591.3" y="28.4" font-size="13" fill="#f23645" font-weight="normal" text-anchor="start" textLength="47.5" lengthAdjust="spacingAndGlyphs" >(−0.73%)</text>
<rect x="5.5" y="39.5" width="66" height="33" rx="4.5" fill="#fff" stroke="#f23645"/>
<rect x="103.5" y="39.5" width="66" height="33" rx="4.5" fill="#fff" stroke="#2962ff"/>
<text x="16.9" y="52.7" font-size="12" fill="#f23645" font-weight="normal" text-anchor="start" textLength="38.3" lengthAdjust="spacingAndGlyphs" stroke="#f23645" stroke-width="0.45">1.1882</text>
<text x="55.8" y="50.6" font-size="8.5" fill="#f23645" font-weight="normal" text-anchor="start" textLength="5.0" lengthAdjust="spacingAndGlyphs" stroke="#f23645" stroke-width="0.3">6</text>
<text x="26.7" y="66.8" font-size="10.8" fill="#f23645" font-weight="normal" text-anchor="start" textLength="23.5" lengthAdjust="spacingAndGlyphs" >SELL</text>
<text x="80.5" y="58.9" font-size="9.8" fill="#131722" font-weight="normal" text-anchor="start" textLength="13.5" lengthAdjust="spacingAndGlyphs" >0.3</text>
<text x="114.4" y="52.7" font-size="12" fill="#2962ff" font-weight="normal" text-anchor="start" textLength="38.2" lengthAdjust="spacingAndGlyphs" stroke="#2962ff" stroke-width="0.45">1.1882</text>
<text x="153.2" y="50.6" font-size="8.5" fill="#2962ff" font-weight="normal" text-anchor="start" textLength="5.0" lengthAdjust="spacingAndGlyphs" stroke="#2962ff" stroke-width="0.3">9</text>
<text x="126.3" y="66.8" font-size="10.8" fill="#2962ff" font-weight="normal" text-anchor="start" textLength="19.7" lengthAdjust="spacingAndGlyphs" >BUY</text>
<text x="6.2" y="93.7" font-size="12" fill="#131722" font-weight="normal" text-anchor="start" textLength="114.6" lengthAdjust="spacingAndGlyphs" >SMA 20/50/100/200</text>
<text x="129.5" y="93.7" font-size="12" fill="#2962ff" font-weight="normal" text-anchor="start" textLength="44.4" lengthAdjust="spacingAndGlyphs" >1.17446</text>
<text x="181.8" y="93.7" font-size="12" fill="#ffc16b" font-weight="normal" text-anchor="start" textLength="44.1" lengthAdjust="spacingAndGlyphs" >1.17035</text>
<text x="233.5" y="93.7" font-size="12" fill="#22ab94" font-weight="normal" text-anchor="start" textLength="44.5" lengthAdjust="spacingAndGlyphs" >1.16770</text>
<text x="284.9" y="93.7" font-size="12" fill="#ff1e1e" font-weight="normal" text-anchor="start" textLength="43.9" lengthAdjust="spacingAndGlyphs" >1.16063</text>
<rect x="5.5" y="104.5" width="28" height="20" rx="3" fill="#fff" stroke="#e0e3eb"/>
<path d="M15.5,116.5 L19.5,112.5 L23.5,116.5" fill="none" stroke="#131722" stroke-width="1.3" stroke-linecap="round" stroke-linejoin="round"/>
<text x="6.2" y="569.7" font-size="12" fill="#131722" font-weight="normal" text-anchor="start" textLength="16.6" lengthAdjust="spacingAndGlyphs" >RSI</text>
<text x="31.8" y="569.7" font-size="12" fill="#7e57c2" font-weight="normal" text-anchor="start" textLength="31.5" lengthAdjust="spacingAndGlyphs" >59.14</text>
<text x="69.8" y="569.7" font-size="12" fill="#fdd835" font-weight="normal" text-anchor="start" textLength="31.5" lengthAdjust="spacingAndGlyphs" >55.25</text>
<g stroke="#fff" stroke-width="3" stroke-linejoin="round" fill="#fff"><path d="M8.9,666.1 H20.9 V680.9 H14.9 V672.9 H8.9 Z"/><circle cx="25.9" cy="668.9" r="2.75"/><path d="M30.9,666.1 H39.2 L33.2,680.9 H24.9 Z"/><text x="45.9" y="680.9" font-size="20.4" font-weight="bold" textLength="121" lengthAdjust="spacingAndGlyphs">TradingView</text></g>
<g fill="#131313"><path d="M8.9,666.1 H20.9 V680.9 H14.9 V672.9 H8.9 Z"/><circle cx="25.9" cy="668.9" r="2.75"/><path d="M30.9,666.1 H39.2 L33.2,680.9 H24.9 Z"/><text x="45.9" y="680.9" font-size="20.4" font-weight="bold" textLength="121" lengthAdjust="spacingAndGlyphs">TradingView</text></g>
<text x="85.0" y="713.3" font-size="12.6" fill="#131722" font-weight="normal" text-anchor="start" textLength="19" lengthAdjust="spacingAndGlyphs" >Aug</text>
<text x="335.1" y="713.3" font-size="12.6" fill="#131722" font-weight="normal" text-anchor="start" textLength="18.8" lengthAdjust="spacingAndGlyphs" >Sep</text>
<text x="598.2" y="713.3" font-size="12.6" fill="#131722" font-weight="normal" text-anchor="start" textLength="18.6" lengthAdjust="spacingAndGlyphs" >Oct</text>
<text x="871.3" y="713.3" font-size="12.6" fill="#131722" font-weight="normal" text-anchor="start" textLength="20.4" lengthAdjust="spacingAndGlyphs" >Nov</text>
<text x="1110.5" y="713.3" font-size="12.6" fill="#131722" font-weight="normal" text-anchor="start" textLength="20" lengthAdjust="spacingAndGlyphs" >Dec</text>
<text x="1368.8" y="713.3" font-size="12.6" fill="#131722" font-weight="bold" text-anchor="start" textLength="27.5" lengthAdjust="spacingAndGlyphs" >2026</text>
<text x="1624.0" y="713.3" font-size="12.6" fill="#131722" font-weight="normal" text-anchor="start" textLength="19" lengthAdjust="spacingAndGlyphs" >Feb</text>
<polygon points="1786.6,709.6 1783.0,715.8 1775.8,715.8 1772.2,709.6 1775.8,703.4 1783.0,703.4" fill="none" stroke="#131722" stroke-width="1.1" stroke-linejoin="round"/>
<circle cx="1779.4" cy="709.6" r="2.1" fill="none" stroke="#131722" stroke-width="1.2"/>
<rect x="0" y="723" width="1810" height="1" fill="#e9e9eb"/>
</svg>
</body></html>
